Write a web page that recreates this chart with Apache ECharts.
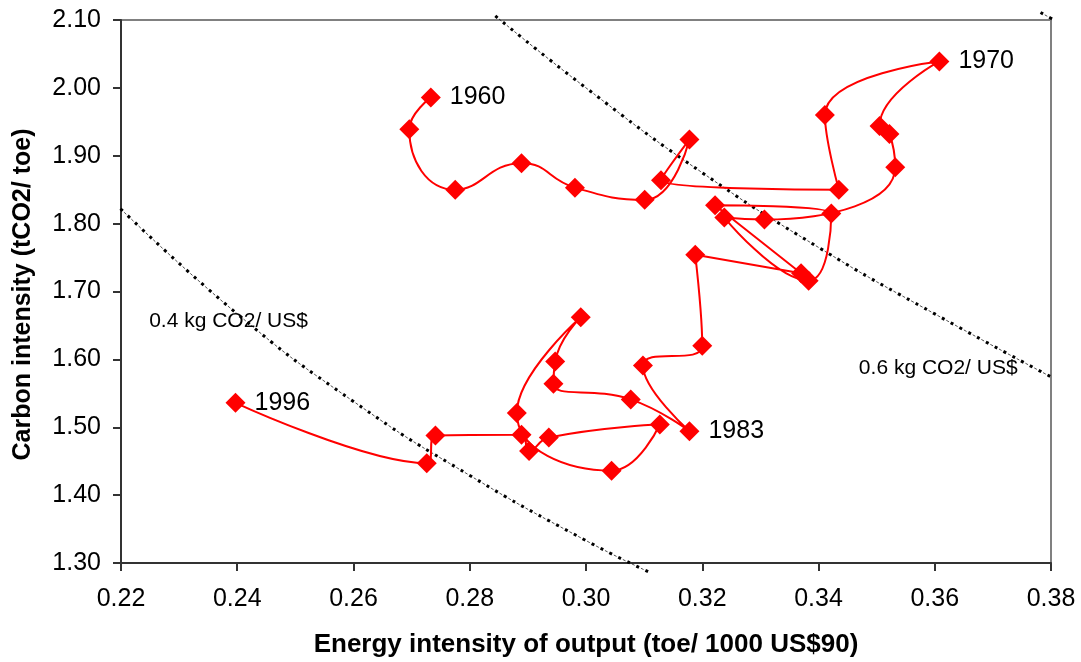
<!DOCTYPE html>
<html><head><meta charset="utf-8">
<script src="https://cdn.jsdelivr.net/npm/echarts@6/dist/echarts.min.js"></script>
<style>html,body{margin:0;padding:0;background:#fff}#c{width:1081px;height:662px}</style>
</head><body><div id="c"></div>
<script>
const years = [1960,1961,1962,1963,1964,1965,1966,1967,1968,1969,1970,1971,1972,1973,1974,1975,1976,1977,1978,1979,1980,1981,1982,1983,1984,1985,1986,1987,1988,1989,1990,1991,1992,1993,1994,1995,1996];
const energyIntensity = [0.2733,0.2696,0.2775,0.2889,0.2981,0.3101,0.3178,0.3129,0.3435,0.3411,0.3608,0.3505,0.3522,0.3532,0.3307,0.3238,0.3383,0.3422,0.3222,0.3370,0.3188,0.3200,0.3098,0.3178,0.3077,0.2944,0.2947,0.2991,0.2881,0.3044,0.3127,0.2936,0.2902,0.2889,0.2741,0.2726,0.2397];
const carbonIntensity = [1.986,1.939,1.850,1.889,1.853,1.835,1.924,1.864,1.850,1.960,2.039,1.944,1.932,1.883,1.806,1.809,1.716,1.815,1.827,1.727,1.754,1.620,1.591,1.494,1.541,1.564,1.597,1.662,1.521,1.436,1.504,1.485,1.465,1.489,1.488,1.447,1.536];
const labelledYears = [1960,1970,1983,1996];

// iso-emission reference curves
const iso04X = [0.2187,0.24,0.26,0.28,0.30,0.311];
const iso04Y = [1.832,1.667,1.538,1.429,1.333,1.286];
const iso06X = [0.2844,0.30,0.32,0.34,0.36,0.3816];
const iso06Y = [2.106,2.000,1.875,1.765,1.667,1.567];
const iso08X = [0.3782,0.3816];
const iso08Y = [2.111,2.095];
const isoLabels = ['0.4 kg CO2/ US$','0.6 kg CO2/ US$'];
const isoLabelX = [0.2385,0.3606];
const isoLabelY = [1.6567,1.5875];

const FONT = "'Liberation Sans', Arial, sans-serif";
const pairs = (xs, ys) => xs.map((x,i)=>[x, ys[i]]);

const mainData = years.map((y,i)=>{
  const item = {value:[energyIntensity[i], carbonIntensity[i]]};
  if (labelledYears.includes(y)) item.label = {show:true, formatter:String(y)};
  return item;
});

function isoSeries(xs, ys){
  const d = pairs(xs, ys);
  return [
    {type:'line', data:d, symbol:'none', smooth:true, clip:false, silent:true, z:1,
     lineStyle:{color:'#000', width:3, type:[3,7], dashOffset:0, cap:'butt'}},
    {type:'line', data:d, symbol:'none', smooth:true, clip:false, silent:true, z:1,
     lineStyle:{color:'#000', width:0.7, type:[3,7], dashOffset:-5, cap:'butt'}}
  ];
}

const chart = echarts.init(document.getElementById('c'), null, {renderer:'canvas'});
chart.setOption({
  animation:false,
  backgroundColor:'#fff',
  grid:{left:121, right:30, top:20, bottom:99, containLabel:false, outerBoundsMode:'none',
        show:true, borderColor:'#808080', borderWidth:2, backgroundColor:'transparent'},
  xAxis:{type:'value', min:0.22, max:0.38, interval:0.02,
    name:'Energy intensity of output (toe/ 1000 US$90)', nameLocation:'middle', nameGap:69,
    nameTextStyle:{fontFamily:FONT, fontSize:26, fontWeight:'bold', color:'#000'},
    axisLine:{show:true, onZero:false, lineStyle:{color:'#333', width:2}},
    axisTick:{show:true, inside:false, length:8, lineStyle:{color:'#333', width:2}},
    axisLabel:{fontFamily:FONT, fontSize:25, color:'#000', margin:24, formatter:v=>v.toFixed(2)},
    splitLine:{show:false}},
  yAxis:{type:'value', min:1.30, max:2.10, interval:0.10,
    name:'Carbon intensity (tCO2/ toe)', nameLocation:'middle', nameGap:85, nameRotate:90,
    nameTextStyle:{fontFamily:FONT, fontSize:25, fontWeight:'bold', color:'#000', padding:[0,6,0,0]},
    axisLine:{show:true, onZero:false, lineStyle:{color:'#333', width:2}},
    axisTick:{show:true, inside:false, length:8, lineStyle:{color:'#333', width:2}},
    axisLabel:{fontFamily:FONT, fontSize:25, color:'#000', margin:20, formatter:v=>v.toFixed(2)},
    splitLine:{show:false}},
  series:[
    ...isoSeries(iso04X, iso04Y),
    ...isoSeries(iso06X, iso06Y),
    ...isoSeries(iso08X, iso08Y),
    {type:'scatter', data:isoLabels.map((t,i)=>({value:[isoLabelX[i], isoLabelY[i]], name:t})),
     symbolSize:1, silent:true, z:2, itemStyle:{color:'rgba(0,0,0,0)', opacity:1},
     label:{show:true, position:'inside', formatter:p=>p.name, fontFamily:FONT, fontSize:21,
            color:'#000000', opacity:1, textBorderWidth:0}},
    {type:'line', data:mainData, smooth:0.5, symbol:'diamond', symbolSize:20, z:5,
     lineStyle:{color:'#ff0000', width:2},
     itemStyle:{color:'#ff0000'},
     label:{show:false, position:'right', distance:9, fontFamily:FONT, fontSize:25, color:'#000'}}
  ]
});
</script></body></html>
